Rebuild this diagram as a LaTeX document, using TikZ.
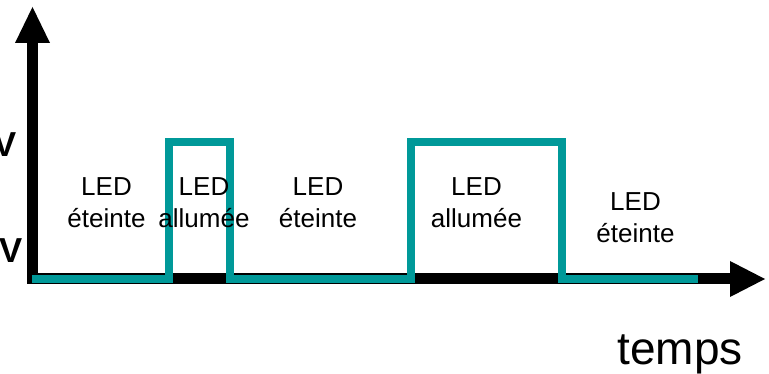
\documentclass[tikz,border=0pt]{standalone}
\usepackage{fontspec}
\setmainfont{Liberation Sans}
\definecolor{signal}{RGB}{0,153,153}
\begin{document}
\begin{tikzpicture}[x=0.75pt,y=-0.75pt,
  axis/.style={line width=8.25pt,black},
  head/.style={fill=black,draw=none},
  signalline/.style={line width=6pt,signal,line join=miter},
  state/.style={font=\fontsize{19.5}{24}\selectfont,align=center,inner sep=0pt,anchor=north},
  level/.style={font=\fontsize{26}{30}\bfseries\selectfont,inner sep=0pt,anchor=base east}]
  \useasboundingbox (0,0) rectangle (769,374);
  \clip (0,0) rectangle (769,374);

  % axes
  \coordinate (origin) at (32.5,278.5);
  \coordinate (ytop) at (32.5,43);
  \coordinate (xend) at (730,278.5);
  \draw[axis] (32.5,278) -- (ytop);
  \draw[axis] (27,278.5) -- (xend);
  \fill[head] (15,43) -- (32.5,7) -- (50,43) -- cycle;
  \fill[head] (730,261) -- (765,279) -- (730,297) -- cycle;

  % LED command signal
  \draw[signalline] (32,279.5) -- (169,279.5) -- (169,142) -- (229.5,142)
    -- (229.5,279) -- (411,279) -- (411,142) -- (562,142) -- (562,279) -- (698,279);

  % voltage levels
  \node[level] (high) at (17,157) {V};
  \node[level] (low) at (23,263) {V};

  % state labels
  \node[state] (s1) at (106.5,177) {LED\\éteinte};
  \node[state] (s2) at (204,177) {LED\\allumée};
  \node[state] (s3) at (318,177) {LED\\éteinte};
  \node[state] (s4) at (476.5,177) {LED\\allumée};
  \node[state] (s5) at (635.5,192) {LED\\éteinte};

  % time axis label
  \node[font=\fontsize{34.5}{40}\selectfont,inner sep=0pt,anchor=base] (t) at (680,365) {temps};
\end{tikzpicture}
\end{document}
